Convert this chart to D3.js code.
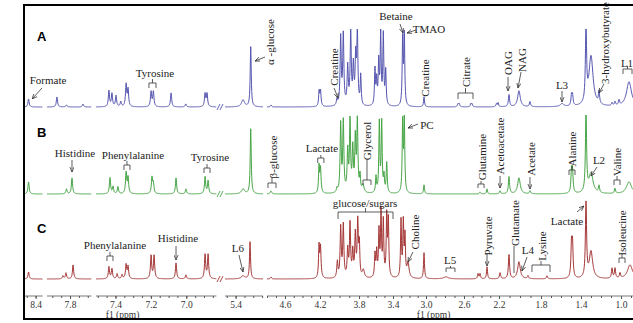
<!DOCTYPE html>
<html>
<head>
<meta charset="utf-8">
<script src="https://cdn.jsdelivr.net/npm/d3@7"></script>
<style>
  body { margin: 0; background: #fff; }
  svg { display: block; }
  text { font-family: "Liberation Serif", "Times New Roman", serif; fill: #222; }
</style>
</head>
<body>
<svg id="chart" width="633" height="323"></svg>
<script>
// ---- data ----
// shown ppm windows, left to right (the axis is broken between them)
const segments = [[8.46, 8.36], [7.93, 7.68], [7.51, 6.83], [5.52, 5.09], [4.8, 0.88]];
const majorTicks = [8.4, 7.8, 7.4, 7.2, 7.0, 5.4, 4.6, 4.2, 3.8, 3.4, 3.0, 2.6, 2.2, 1.8, 1.4, 1.0];

// peaks: [ppm, intensity, half width (ppm, optional)]
const peaksA = [
  [8.44, 8], [7.874, 10], [7.82, 2], [7.727, 3],
  [7.437, 16], [7.42, 13], [7.397, 11], [7.37, 5], [7.34, 22], [7.329, 17],
  [7.199, 15], [7.186, 15], [7.086, 14], [7.003, 3], [6.894, 13], [6.883, 13],
  [5.316, 7, 0.02], [5.229, 60], [4.756, 2], [4.21, 15], [4.195, 15], [4.026, 6],
  [3.988, 68], [3.961, 70], [3.916, 38], [3.885, 72], [3.858, 38], [3.834, 46], [3.817, 70], [3.78, 30],
  [3.612, 36], [3.592, 24], [3.568, 42], [3.545, 70], [3.514, 70], [3.486, 34],
  [3.283, 66], [3.263, 70], [3.024, 10],
  [2.663, 3], [2.65, 3], [2.522, 3], [2.509, 3], [2.23, 3], [2.211, 4], [2.105, 12], [2.01, 16, 0.015], [1.905, 5],
  [1.59, 3, 0.02], [1.495, 10], [1.485, 10], [1.35, 76], [1.30, 50, 0.025], [1.22, 12],
  [1.09, 3], [1.06, 4], [1.02, 5], [0.92, 25, 0.03]
];
const peaksB = [
  [8.44, 12], [7.82, 5], [7.789, 16],
  [7.431, 16], [7.414, 7], [7.386, 7], [7.34, 21], [7.329, 16],
  [7.194, 16], [7.186, 10], [7.058, 16], [7.002, 5], [6.894, 17], [6.877, 13],
  [5.316, 5, 0.02], [5.229, 65], [4.756, 3, 0.01], [4.211, 27], [4.195, 24], [4.026, 4],
  [3.988, 68], [3.961, 70], [3.916, 40], [3.892, 70], [3.864, 42], [3.838, 52], [3.817, 70], [3.788, 16], [3.753, 8, 0.015],
  [3.60, 16], [3.561, 70], [3.533, 70], [3.506, 16], [3.474, 30],
  [3.283, 70], [3.263, 72], [3.024, 9],
  [2.417, 2], [2.337, 5], [2.19, 3], [2.105, 17], [2.01, 16, 0.015], [1.905, 3],
  [1.495, 21], [1.485, 21], [1.35, 80], [1.30, 20, 0.025], [1.22, 7], [1.06, 5], [0.92, 12, 0.03]
];
const peaksC = [
  [8.44, 7], [7.84, 3], [7.823, 6], [7.783, 14],
  [7.437, 12], [7.42, 10], [7.391, 5], [7.363, 4], [7.34, 14], [7.329, 12],
  [7.199, 23], [7.182, 23], [7.058, 16], [7.002, 4], [6.894, 24], [6.877, 24],
  [5.316, 3, 0.025], [5.237, 37], [4.756, 2], [4.211, 32], [4.195, 30],
  [4.022, 16], [3.988, 50], [3.961, 52], [3.916, 27], [3.892, 53], [3.864, 25], [3.838, 42], [3.813, 54], [3.796, 32], [3.749, 8, 0.015],
  [3.612, 23], [3.592, 25], [3.565, 45], [3.541, 64], [3.514, 55], [3.474, 60], [3.455, 56],
  [3.303, 57], [3.275, 54], [3.255, 40], [3.218, 15, 0.015], [3.024, 26],
  [2.789, 2, 0.03], [2.44, 5], [2.417, 5], [2.337, 12], [2.19, 6], [2.105, 24], [2.01, 17, 0.015], [1.924, 3], [1.74, 3],
  [1.495, 32], [1.485, 32], [1.35, 77], [1.30, 27, 0.02], [1.09, 10], [1.06, 10], [1.01, 5], [0.91, 14, 0.03]
];

// assignments: label centre [ppm, height], arrow [ppm1, h1, ppm2, h2], bracket [left, right, top, legs, stem]
const notesA = [
  { text: 'Formate', at: [7.924, 27], arrow: [8.364, 19, 8.42, 8] },
  { text: 'Tyrosine', at: [7.177, 34], bracket: [7.211, 7.171, 24, 19, 28] },
  { text: 'α -glucose', at: [4.767, 65], rot: true, arrow: [4.945, 50, 5.18, 46] },
  { text: 'Creatine', at: [4.056, 40], rot: true, arrow: [4.056, 19, 4.015, 9] },
  { text: 'Betaine', at: [3.364, 91], arrow: [3.315, 83, 3.279, 74] },
  { text: 'TMAO', at: [2.968, 78], arrow: [3.121, 77, 3.23, 74] },
  { text: 'Creatine', at: [3.012, 29], rot: true },
  { text: 'Citrate', at: [2.577, 35], rot: true, bracket: [2.663, 2.497, 14, 8, 19] },
  { text: 'OAG', at: [2.114, 44], rot: true, arrow: [2.114, 30, 2.114, 16] },
  { text: 'NAG', at: [1.981, 47], rot: true, arrow: [1.99, 35, 2.019, 19] },
  { text: 'L3', at: [1.59, 22], arrow: [1.59, 16, 1.59, 5] },
  { text: '3-hydroxybutyrate', at: [1.16, 64], rot: true, arrow: [1.17, 23, 1.22, 14] },
  { text: 'L1', at: [0.94, 44], bracket: [0.98, 0.89, 38, 33, 41] }
];
const notesB = [
  { text: 'Histidine', at: [7.772, 41], arrow: [7.789, 34, 7.789, 22] },
  { text: 'Phenylalanine', at: [7.301, 39], bracket: [7.352, 7.318, 29, 24, 33] },
  { text: 'Tyrosine', at: [6.866, 37], bracket: [6.90, 6.866, 26, 21, 30] },
  { text: 'β-glucose', at: [4.733, 37], rot: true, bracket: [4.789, 4.70, 11, 6, 16] },
  { text: 'Lactate', at: [4.18, 46], bracket: [4.226, 4.16, 36, 31, 39] },
  { text: 'Glycerol', at: [3.706, 53], rot: true, bracket: [3.753, 3.659, 14, 9, 34] },
  { text: 'PC', at: [2.99, 69], arrow: [3.097, 70, 3.218, 66] },
  { text: 'Glutamine', at: [2.394, 37], rot: true, bracket: [2.44, 2.371, 10, 6, 13] },
  { text: 'Acetoacetate', at: [2.19, 48], rot: true, arrow: [2.19, 18, 2.19, 6] },
  { text: 'Acetate', at: [1.895, 35], rot: true, arrow: [1.905, 17, 1.905, 5] },
  { text: 'Alanine', at: [1.49, 45], rot: true, bracket: [1.52, 1.46, 24, 19, 28] },
  { text: 'L2', at: [1.22, 34], arrow: [1.24, 27, 1.30, 18] },
  { text: 'Valine', at: [1.04, 32], rot: true, bracket: [1.07, 1.01, 14, 9, 18] }
];
const notesC = [
  { text: 'Phenylalanine', at: [7.403, 34], bracket: [7.448, 7.414, 23, 18, 27] },
  { text: 'Histidine', at: [7.047, 41], arrow: [7.058, 33, 7.058, 19] },
  { text: 'L6', at: [5.373, 31], arrow: [5.362, 24, 5.316, 7] },
  { text: 'glucose/sugars', at: [3.729, 76], bracket: [4.015, 3.40, 67, 60, 71] },
  { text: 'Choline', at: [3.133, 47], rot: true, arrow: [3.158, 27, 3.218, 17] },
  { text: 'L5', at: [2.747, 19], bracket: [2.789, 2.695, 11, 7, 13] },
  { text: 'Pyruvate', at: [2.326, 43], rot: true, arrow: [2.337, 26, 2.337, 13] },
  { text: 'Glutamate', at: [2.048, 56], rot: true, arrow: [2.057, 33, 2.057, 6], plain: true },
  { text: 'L4', at: [1.924, 29], arrow: [1.933, 22, 1.981, 8] },
  { text: 'Lysine', at: [1.79, 33], rot: true, bracket: [1.886, 1.71, 14, 7, 18] },
  { text: 'Lactate', at: [1.54, 58], arrow: [1.44, 67, 1.37, 73] },
  { text: 'Isoleucine', at: [0.99, 46], rot: true, bracket: [1.02, 0.96, 21, 16, 25] }
];

// ---- layout ----
const svg = d3.select('#chart');
const x = d3.scaleLinear()
  .domain([8.46, 8.36, 7.93, 7.68, 7.51, 6.83, 5.52, 5.09, 4.8, 4.6, 4.2, 3.8, 3.4, 3.0, 2.6, 2.2, 1.8, 1.4, 1.0, 0.88])
  .range([25, 42.7, 47, 91.3, 96, 216.4, 225, 263, 267, 285, 320, 359, 393, 426, 464, 499, 541, 581, 621, 633]);

const panels = [
  { name: 'A', peaks: peaksA, notes: notesA, base: 107, top: 29, color: '#5555b0', labelY: 41 },
  { name: 'B', peaks: peaksB, notes: notesB, base: 194, top: 115, color: '#45a445', labelY: 137 },
  { name: 'C', peaks: peaksC, notes: notesC, base: 279, top: 201, color: '#a53636', labelY: 233 }
];

const defs = svg.append('defs');
defs.append('marker')
  .attr('id', 'head')
  .attr('viewBox', '0 0 6 6')
  .attr('refX', 6).attr('refY', 3)
  .attr('markerWidth', 5).attr('markerHeight', 5)
  .attr('markerUnits', 'userSpaceOnUse')
  .attr('orient', 'auto')
  .append('path')
  .attr('d', 'M0,0.5L6,3L0,5.5')
  .attr('fill', 'none')
  .attr('stroke', '#333')
  .attr('stroke-width', 0.9);

// sum of lorentzian lines over one ppm window
function spectrum(peaks, lo, hi) {
  const ppms = [];
  for (let px = x(lo); px <= x(hi); px += 0.25) ppms.push(x.invert(px));
  peaks.forEach(p => { if (p[0] <= lo && p[0] >= hi) ppms.push(p[0]); });
  ppms.sort((a, b) => b - a);
  return ppms.map(v => [v, d3.sum(peaks, p => {
    const w = p[2] || (v > 6 ? 0.004 : 0.0068);
    const d = v - p[0];
    return p[1] * w * w / (d * d + w * w);
  })]);
}

panels.forEach((pn, i) => {
  const y = d3.scaleLinear().domain([0, 100]).range([pn.base, pn.base - 100]);
  const g = svg.append('g');

  defs.append('clipPath').attr('id', 'clip' + i)
    .append('rect').attr('x', 0).attr('y', pn.top).attr('width', 633).attr('height', 323);

  const line = d3.line().x(d => x(d[0])).y(d => y(d[1]));
  segments.forEach(s => {
    g.append('path')
      .datum(spectrum(pn.peaks, s[0], s[1]))
      .attr('clip-path', 'url(#clip' + i + ')')
      .attr('fill', 'none')
      .attr('stroke', pn.color)
      .attr('stroke-width', 1)
      .attr('d', line);
  });

  // break marks
  [218.5, 221.5].forEach(bx => {
    g.append('line')
      .attr('x1', bx - 1.5).attr('y1', pn.base + 3)
      .attr('x2', bx + 1.5).attr('y2', pn.base - 3)
      .attr('stroke', pn.color).attr('stroke-width', 0.9);
  });

  g.append('text')
    .attr('x', 37).attr('y', pn.labelY)
    .style('font-family', '"Liberation Sans", Arial, sans-serif')
    .attr('font-weight', 'bold')
    .attr('font-size', 13)
    .style('fill', '#000')
    .text(pn.name);

  pn.notes.forEach(n => {
    const cx = x(n.at[0]), cy = y(n.at[1]);
    const t = g.append('text')
      .attr('font-size', 11)
      .attr('text-anchor', 'middle')
      .attr('dominant-baseline', 'central')
      .text(n.text);
    if (n.rot) t.attr('transform', `translate(${cx},${cy}) rotate(-90)`);
    else t.attr('x', cx).attr('y', cy);

    if (n.arrow) {
      const a = n.arrow;
      g.append('line')
        .attr('x1', x(a[0])).attr('y1', y(a[1]))
        .attr('x2', x(a[2])).attr('y2', y(a[3]))
        .attr('stroke', '#333').attr('stroke-width', 0.8)
        .attr('marker-end', n.plain ? null : 'url(#head)');
    }
    if (n.bracket) {
      const [l, r, top, leg, stem] = n.bracket;
      const xl = x(l), xr = x(r), m = (xl + xr) / 2;
      g.append('path')
        .attr('d', `M${xl},${y(leg)}V${y(top)}H${xr}V${y(leg)}M${m},${y(top)}V${y(stem)}`)
        .attr('fill', 'none').attr('stroke', '#333').attr('stroke-width', 0.8);
    }
  });
});

// ---- axis ----
const axisY = 296;
const ax = svg.append('g').attr('transform', `translate(0,${axisY})`);
const minorTicks = [];
segments.forEach(s => {
  const step = s[0] > 6 ? 0.05 : 0.1;
  d3.range(Math.ceil(s[1] / step - 1e-6), Math.floor(s[0] / step + 1e-6) + 1)
    .forEach(k => minorTicks.push(+(k * step).toFixed(2)));
  ax.append('line')
    .attr('x1', x(s[0])).attr('x2', x(s[1]))
    .attr('stroke', '#555').attr('stroke-width', 0.8);
});

ax.append('g')
  .call(d3.axisBottom(x).tickValues(minorTicks).tickSize(2).tickFormat(''))
  .call(g => g.select('.domain').remove())
  .selectAll('line').attr('stroke', '#555');

ax.append('g')
  .call(d3.axisBottom(x).tickValues(majorTicks).tickSize(3).tickPadding(2).tickFormat(d3.format('.1f')))
  .call(g => g.select('.domain').remove())
  .call(g => g.selectAll('line').attr('stroke', '#555'))
  .call(g => g.selectAll('text')
    .attr('font-size', 9.5)
    .style('font-family', '"Liberation Serif", "Times New Roman", serif')
    .style('fill', '#333'));

[7.36, 2.92].forEach(v => {
  svg.append('text')
    .attr('x', x(v)).attr('y', 318)
    .attr('text-anchor', 'middle')
    .attr('font-size', 9.5)
    .style('fill', '#333')
    .text('f1 (ppm)');
});

// frame
svg.append('path')
  .attr('d', 'M633,5H24V319H633')
  .attr('fill', 'none')
  .attr('stroke', '#000')
  .attr('stroke-width', 2);
</script>
</body>
</html>
